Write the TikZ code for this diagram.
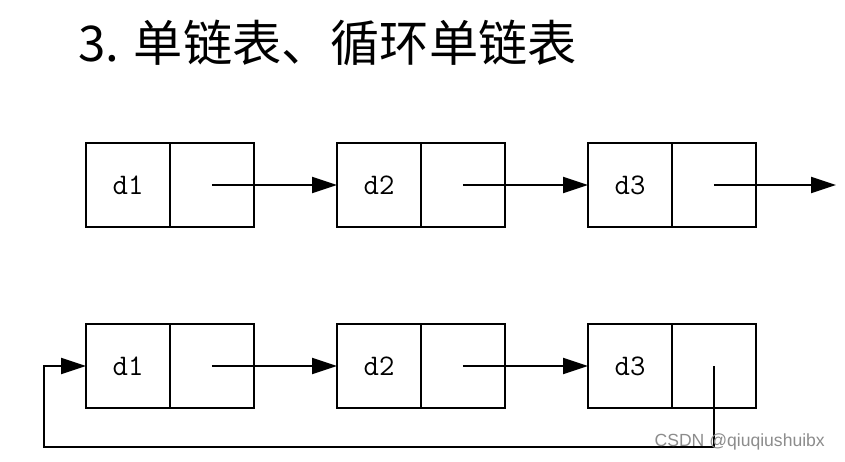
\documentclass[tikz,border=0pt]{standalone}
\usepackage{fontspec}
\newfontfamily\cjkfont{Noto Sans CJK SC}
\newfontfamily\markfont{Liberation Sans}
\usetikzlibrary{arrows.meta}

\tikzset{
    cell/.style={draw, line width=1.1pt, minimum width=1.68cm, minimum height=1.68cm,
        inner sep=0pt, outer sep=0pt, font=\ttfamily\fontsize{17}{17}\selectfont},
    link/.style={line width=1.1pt, -{Triangle[length=0.5cm, width=0.32cm]}},
}

\begin{document}
\begin{tikzpicture}[x=0.02cm, y=-0.02cm]
    \useasboundingbox (0,0) rectangle (845,461);

    \node[anchor=west, inner sep=0pt, font=\cjkfont\fontsize{28}{28}\selectfont] (title) at (78,43)
        {3. 单链表、循环单链表};

    % singly linked list
    \foreach \i/\x in {1/128, 2/379, 3/630} {
        \node[cell] (d\i) at (\x,185) {d\i};
        \node[cell, anchor=west] (p\i) at (d\i.east) {};
    }
    \coordinate (tail) at (836,185);

    \draw[link] (p1.center) -- (d2.west);
    \draw[link] (p2.center) -- (d3.west);
    \draw[link] (p3.center) -- (tail);

    % circular singly linked list
    \foreach \i/\x in {1/128, 2/379, 3/630} {
        \node[cell] (e\i) at (\x,366) {d\i};
        \node[cell, anchor=west] (q\i) at (e\i.east) {};
    }
    \coordinate (back) at (44,447);

    \draw[link] (q1.center) -- (e2.west);
    \draw[link] (q2.center) -- (e3.west);
    \draw[link] (q3.center) -- (q3.center |- back) -- (back) |- (e1.west);

    \node[anchor=east, text=black!45, font=\markfont\fontsize{10}{10}\selectfont] (mark)
        at (831,442) {CSDN @qiuqiushuibx};
\end{tikzpicture}
\end{document}
